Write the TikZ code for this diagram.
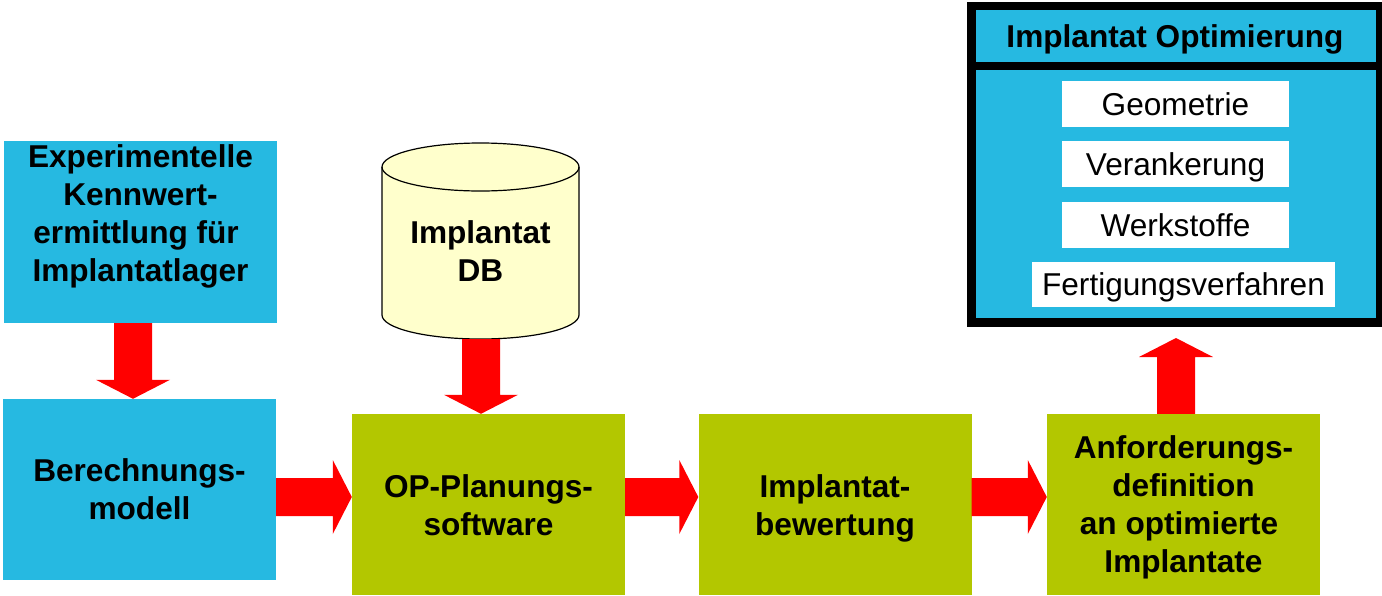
\documentclass[tikz,border=0pt]{standalone}
\usepackage{fontspec}
\setmainfont{Liberation Sans}
\usetikzlibrary{calc}
\definecolor{boxblue}{RGB}{38,185,225}
\definecolor{boxgreen}{RGB}{179,199,0}
\definecolor{dbcream}{RGB}{255,255,204}
\newcommand\harrow[2]{\fill[arr] let \p1=(#1),\p2=(#2) in
  (\x1,\y1+19pt) -- (\x2-19pt,\y1+19pt) -- (\x2-19pt,\y1+37pt) -- (\x2,\y1)
  -- (\x2-19pt,\y1-37pt) -- (\x2-19pt,\y1-19pt) -- (\x1,\y1-19pt) -- cycle;}
\newcommand\darrow[2]{\fill[arr] let \p1=(#1),\p2=(#2) in
  (\x1-19pt,\y1) -- (\x1-19pt,\y2+19pt) -- (\x1-37pt,\y2+19pt) -- (\x1,\y2)
  -- (\x1+37pt,\y2+19pt) -- (\x1+19pt,\y2+19pt) -- (\x1+19pt,\y1) -- cycle;}
\newcommand\uarrow[2]{\fill[arr] let \p1=(#1),\p2=(#2) in
  (\x1-19pt,\y1) -- (\x1-19pt,\y2-19pt) -- (\x1-37pt,\y2-19pt) -- (\x1,\y2)
  -- (\x1+37pt,\y2-19pt) -- (\x1+19pt,\y2-19pt) -- (\x1+19pt,\y1) -- cycle;}
\newcommand\tsp{\mbox{\ }}
\begin{document}
\begin{tikzpicture}[x=1pt,y=1pt,
  box/.style={minimum width=273pt, minimum height=181pt, inner sep=0pt, draw=none},
  bluebox/.style={box, fill=boxblue},
  greenbox/.style={box, fill=boxgreen},
  lbl/.style={font=\fontsize{31.6}{38}\selectfont\bfseries, align=center, inner sep=0pt, anchor=base},
  item/.style={fill=white, inner sep=0pt, minimum height=46pt, text height=22.7pt, text depth=0pt, font=\fontsize{31.6}{38}\selectfont},
  arr/.style={fill=red},
  cyl/.style={fill=dbcream, draw=black, line width=1.2pt}
]
\useasboundingbox (0,0) rectangle (1382,-595);

% left column (label y = baseline of last line)
\node[bluebox, minimum height=182pt] (exp) at (140.5,-232) {};
\node[lbl] (expl) at (140.5,-281) {Experimentelle\\Kennwert-\\ermittlung für\tsp\\Implantatlager};
\node[bluebox] (ber) at (139.5,-489.5) {};
\node[lbl] (berl) at (139.5,-519) {Berechnungs-\\modell};

% green row
\node[greenbox] (op) at (488.5,-504.5) {};
\node[lbl] (opl) at (488.5,-535) {OP-Planungs-\\software};
\node[greenbox] (bew) at (835,-504.5) {};
\node[lbl] (bewl) at (835,-535) {Implantat-\\bewertung};
\node[greenbox] (anf) at (1183.5,-504.5) {};
\node[lbl] (anfl) at (1183.5,-572) {Anforderungs-\\definition\\an optimierte\tsp\\Implantate};

% database cylinder
\filldraw[cyl] (382,-167) -- (382,-315)
  arc[start angle=180, end angle=360, x radius=98.5, y radius=24]
  -- (579,-167)
  arc[start angle=0, end angle=180, x radius=98.5, y radius=24] -- cycle;
\draw[cyl, fill=none] (382,-167) arc[start angle=180, end angle=360, x radius=98.5, y radius=24];
\node[lbl] (dbl) at (480.5,-281) {Implantat\\DB};
\coordinate (db) at (481,-339);

% optimisation panel
\node[fill=black, minimum width=418pt, minimum height=325pt, inner sep=0pt] (opt) at (1176,-164.5) {};
\node[fill=boxblue, minimum width=400pt, minimum height=52pt, inner sep=0pt] (opthead) at (1176,-36) {};
\node[lbl] (optl) at (1175,-47) {Implantat Optimierung};
\node[fill=boxblue, minimum width=400pt, minimum height=248pt, inner sep=0pt] (optbody) at (1176,-194) {};
\node[item, minimum width=227pt] (geo) at (1175.5,-104) {Geometrie};
\node[item, minimum width=227pt] (ver) at (1175.5,-164) {Verankerung};
\node[item, minimum width=227pt] (wer) at (1175.5,-225) {Werkstoffe};
\node[item, minimum width=303pt, minimum height=45pt] (fer) at (1183.5,-284.5) {Fertigungsverfahren};

% arrows
\coordinate (uptip) at (1176,-338);
\darrow{133,0 |- exp.south}{133,0 |- ber.north}
\darrow{db}{481,0 |- op.north}
\harrow{ber.east |- 0,-497}{op.west |- 0,-497}
\harrow{op.east |- 0,-497}{bew.west |- 0,-497}
\harrow{bew.east |- 0,-497}{anf.west |- 0,-497}
\uarrow{1176,0 |- anf.north}{uptip}
\end{tikzpicture}
\end{document}
